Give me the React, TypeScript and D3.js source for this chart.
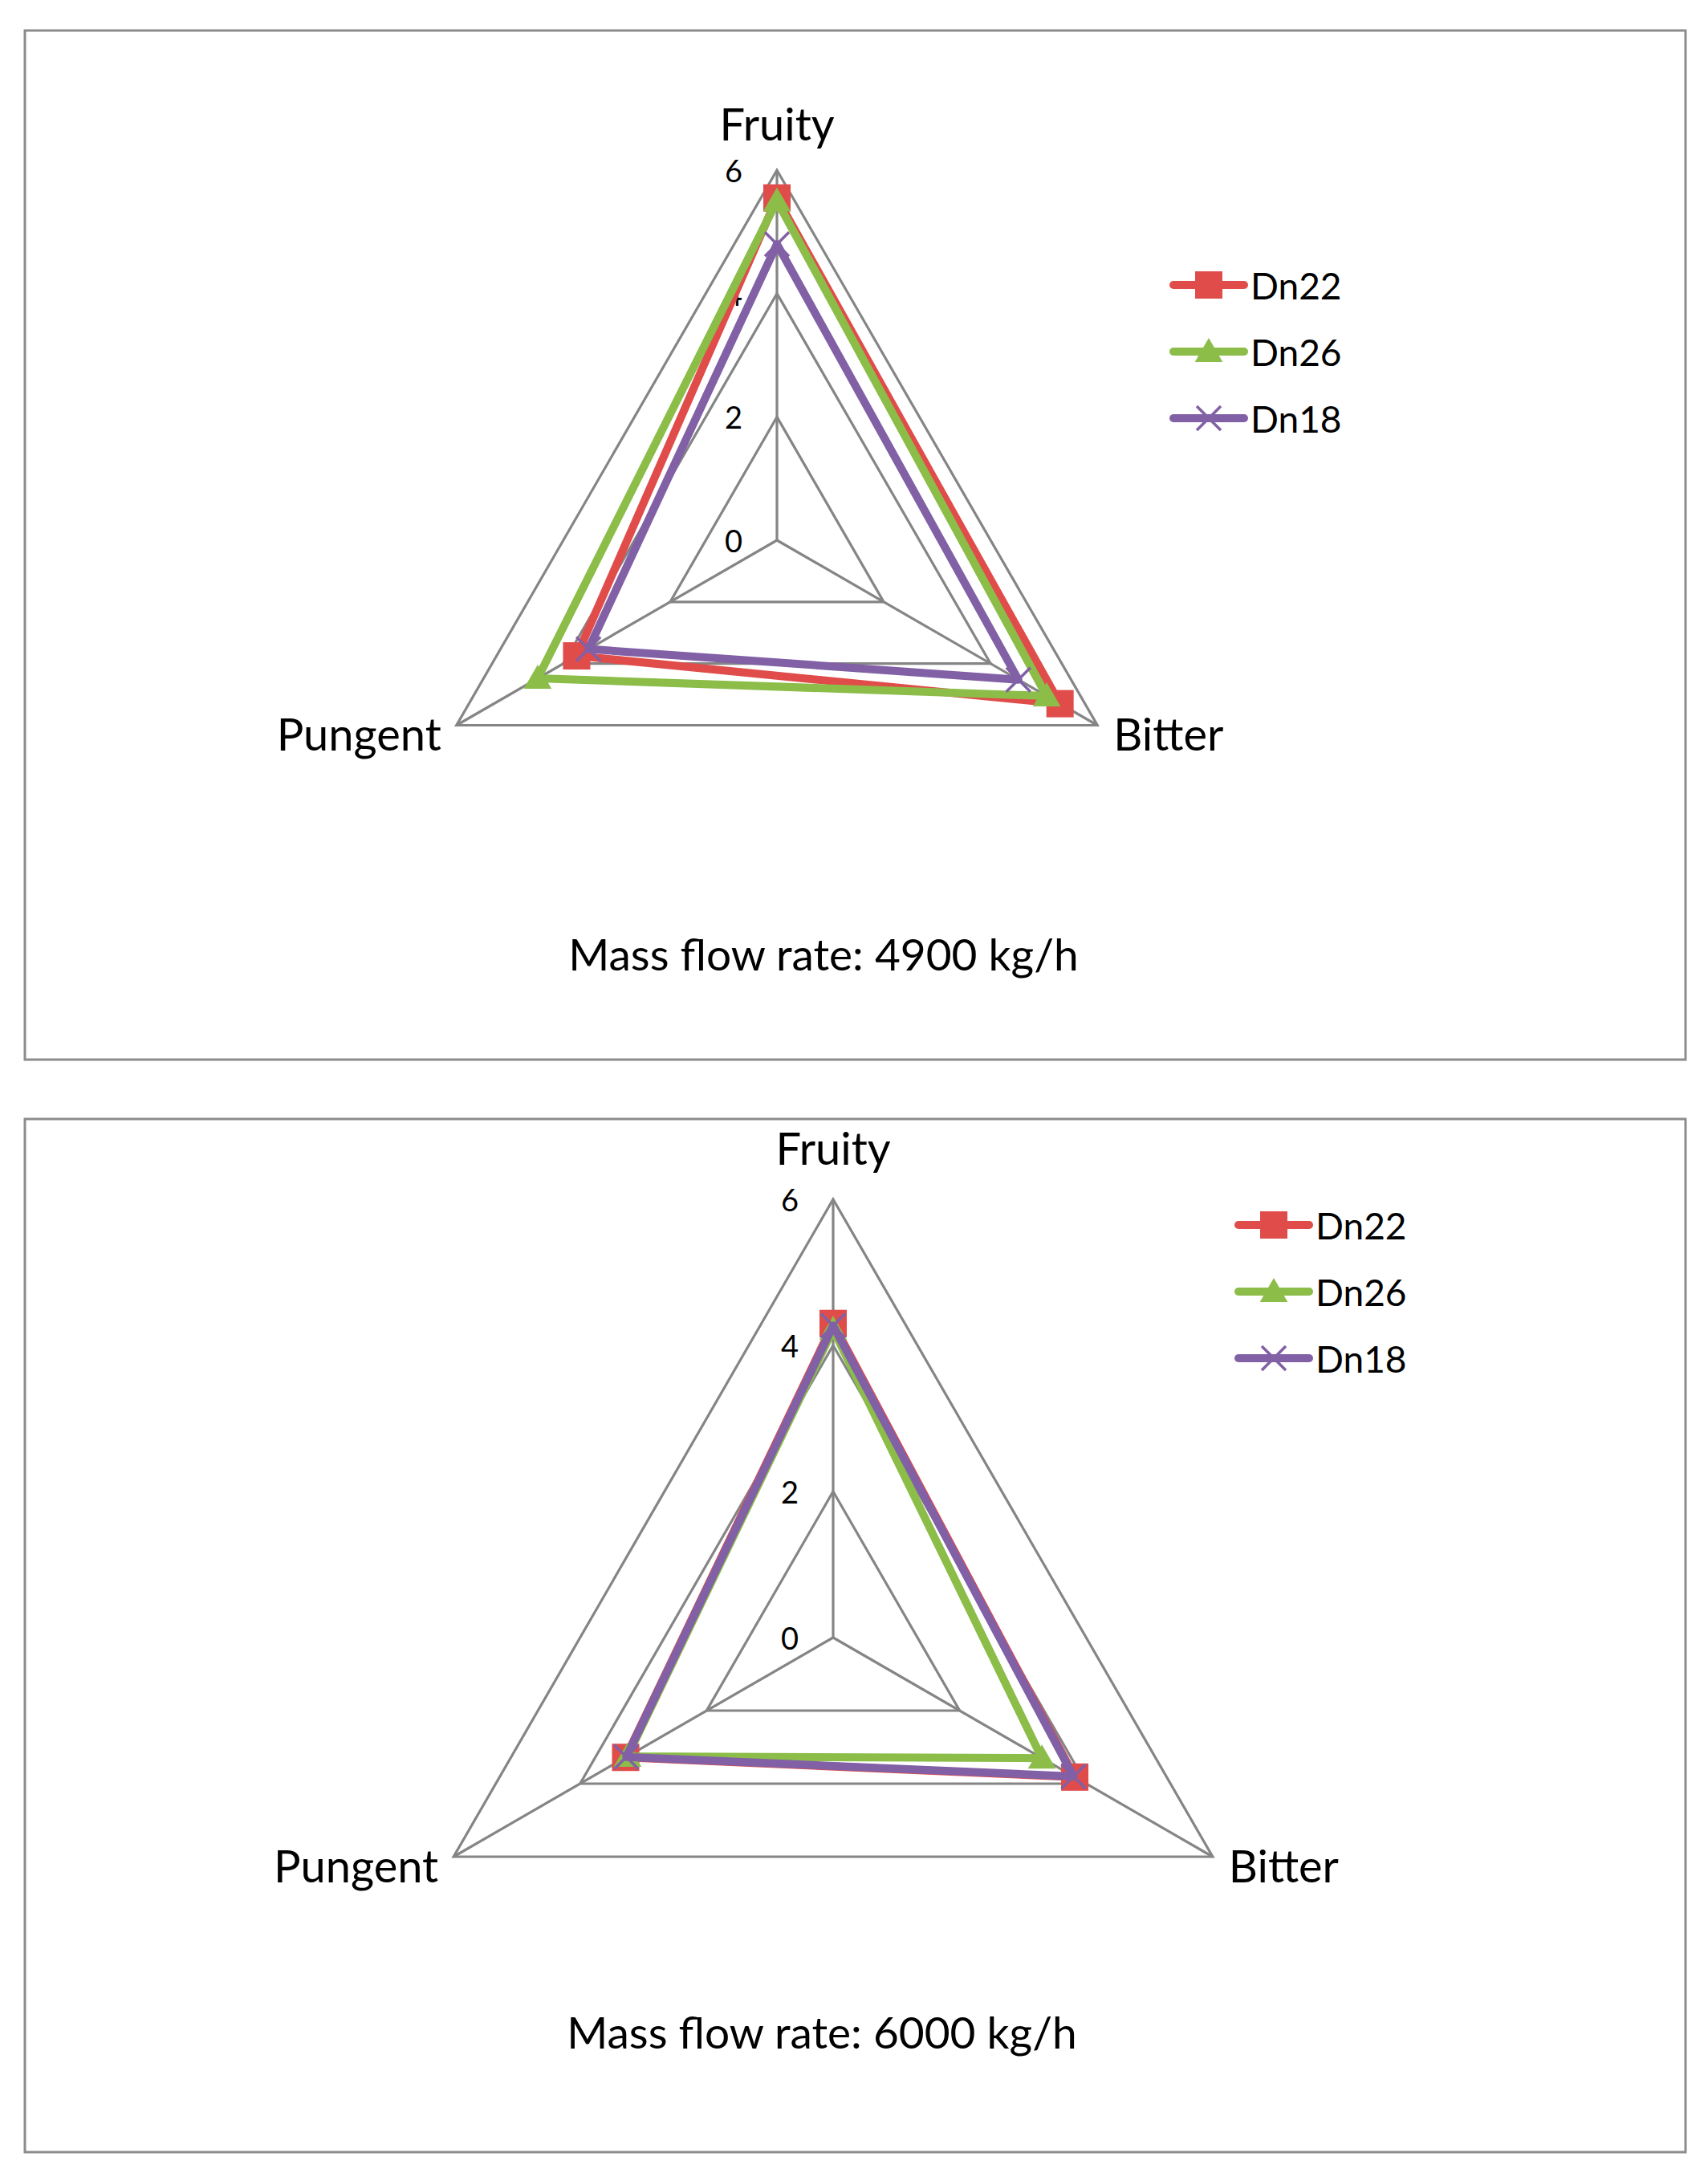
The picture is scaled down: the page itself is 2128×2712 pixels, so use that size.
import React from "react";
import * as d3 from "d3";

// ---- data ----
const categories = ["Fruity", "Bitter", "Pungent"];
const seriesNames = ["Dn22", "Dn26", "Dn18"];
const tickValues = [0, 2, 4, 6];
const titles = ["Mass flow rate: 4900 kg/h", "Mass flow rate: 6000 kg/h"];

const dn22_4900 = [5.55, 5.3, 3.75];
const dn26_4900 = [5.5, 5.05, 4.48];
const dn18_4900 = [4.8, 4.52, 3.53];

const dn22_6000 = [4.3, 3.82, 3.28];
const dn26_6000 = [4.22, 3.3, 3.25];
const dn18_6000 = [4.27, 3.8, 3.27];

const seriesColors = ["#E04C4A", "#8BBD48", "#8160A6"];
const seriesMarkers = ["square", "triangle", "x"];

// ---- layout ----
const panels = [
  {
    frame: { x: 31, y: 38, w: 2069, h: 1282 },
    cx: 968, cy: 673, r: 461,
    legend: { x: 1462, y: 355 },
    titleX: 1026, titleY: 1188,
    fruityGap: 59,
    data: [dn22_4900, dn26_4900, dn18_4900],
    title: titles[0],
  },
  {
    frame: { x: 31, y: 1394, w: 2069, h: 1287 },
    cx: 1038, cy: 2040, r: 546,
    legend: { x: 1543, y: 1526 },
    titleX: 1024, titleY: 2531,
    fruityGap: 65,
    data: [dn22_6000, dn26_6000, dn18_6000],
    title: titles[1],
  },
];

const FONT = "Lato, 'Open Sans', sans-serif";
const GRID = "#858585";

function Marker({ kind, x, y, color }: { kind: string; x: number; y: number; color: string }) {
  if (kind === "square") {
    const s = 34;
    return <rect x={x - s / 2} y={y - s / 2} width={s} height={s} fill={color} />;
  }
  if (kind === "triangle") {
    const p = d3.symbol().type(d3.symbolTriangle).size(520)();
    return <path d={p as string} transform={`translate(${x},${y + 3})`} fill={color} />;
  }
  const h = 15;
  return (
    <g stroke={color} strokeWidth={3.5}>
      <line x1={x - h} y1={y - h} x2={x + h} y2={y + h} />
      <line x1={x - h} y1={y + h} x2={x + h} y2={y - h} />
    </g>
  );
}

function Panel({ p }: { p: (typeof panels)[number] }) {
  const rScale = d3.scaleLinear().domain([0, 6]).range([0, p.r]);
  const angle = d3.scaleLinear().domain([0, categories.length]).range([0, 2 * Math.PI]);
  const pt = (i: number, v: number): [number, number] => {
    const a = angle(i);
    return [p.cx + rScale(v) * Math.sin(a), p.cy - rScale(v) * Math.cos(a)];
  };
  const closed = d3.line().curve(d3.curveLinearClosed);

  const outer = categories.map((_, i) => pt(i, 6));

  return (
    <g>
      <rect x={p.frame.x} y={p.frame.y} width={p.frame.w} height={p.frame.h} fill="#fff" stroke="#8c8c8c" strokeWidth={3} />
      {/* grid rings */}
      {tickValues.filter((t) => t > 0).map((t) => (
        <path key={t} d={closed(categories.map((_, i) => pt(i, t))) as string} fill="none" stroke={GRID} strokeWidth={3.2} />
      ))}
      {/* spokes */}
      {outer.map(([x, y], i) => (
        <line key={i} x1={p.cx} y1={p.cy} x2={x} y2={y} stroke={GRID} strokeWidth={3.2} />
      ))}
      {/* tick labels */}
      {tickValues.map((t) => (
        <text key={t} x={p.cx - 43} y={p.cy - rScale(t)} textAnchor="end" dominantBaseline="central" fontFamily={FONT} fontSize={38} fill="#000">
          {t}
        </text>
      ))}
      {/* category labels */}
      <text x={p.cx} y={outer[0][1] - p.fruityGap} textAnchor="middle" dominantBaseline="central" fontFamily={FONT} fontSize={56}>
        {categories[0]}
      </text>
      <text x={outer[1][0] + 20} y={outer[1][1] + 10} textAnchor="start" dominantBaseline="central" fontFamily={FONT} fontSize={56}>
        {categories[1]}
      </text>
      <text x={outer[2][0] - 19} y={outer[2][1] + 10} textAnchor="end" dominantBaseline="central" fontFamily={FONT} fontSize={56}>
        {categories[2]}
      </text>
      {/* series */}
      {p.data.map((vals, si) => {
        const pts = vals.map((v, i) => pt(i, v));
        return (
          <g key={si}>
            <path d={closed(pts) as string} fill="none" stroke={seriesColors[si]} strokeWidth={10} strokeLinejoin="round" />
            {pts.map(([x, y], i) => (
              <Marker key={i} kind={seriesMarkers[si]} x={x} y={y} color={seriesColors[si]} />
            ))}
          </g>
        );
      })}
      {/* legend */}
      {seriesNames.map((name, si) => {
        const y = p.legend.y + si * 83;
        const x0 = p.legend.x;
        const x1 = x0 + 88;
        return (
          <g key={name}>
            <line x1={x0} y1={y} x2={x1} y2={y} stroke={seriesColors[si]} strokeWidth={10} strokeLinecap="round" />
            <Marker kind={seriesMarkers[si]} x={(x0 + x1) / 2} y={y} color={seriesColors[si]} />
            <text x={x1 + 8} y={y} dominantBaseline="central" fontFamily={FONT} fontSize={46}>
              {name}
            </text>
          </g>
        );
      })}
      {/* title */}
      <text x={p.titleX} y={p.titleY} textAnchor="middle" dominantBaseline="central" fontFamily={FONT} fontSize={55}>
        {p.title}
      </text>
    </g>
  );
}

export default function App() {
  return (
    <svg
      width={2128}
      height={2712}
      style={{ position: "absolute", left: 0, top: 0, background: "#fff" }}
    >
      <rect width={2128} height={2712} fill="#fff" />
      {panels.map((p, i) => (
        <Panel key={i} p={p} />
      ))}
    </svg>
  );
}
